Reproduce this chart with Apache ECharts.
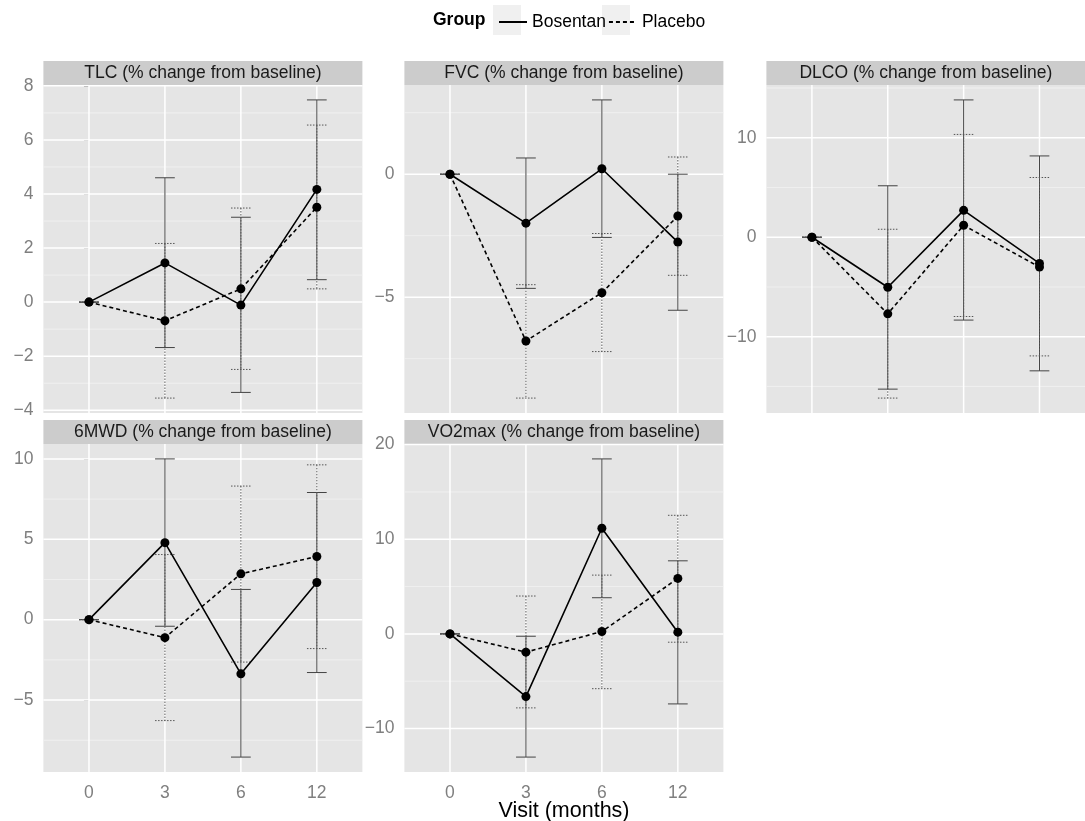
<!DOCTYPE html>
<html><head><meta charset="utf-8">
<script src="https://cdn.jsdelivr.net/npm/echarts@6/dist/echarts.min.js"></script>
<style>html,body{margin:0;padding:0;background:#fff}#chart{width:1085px;height:821px}</style>
</head><body><div id="chart"></div>
<script>
// ---------- DATA ----------
const visits = ['0', '3', '6', '12'];
const groupNames = ['Bosentan', 'Placebo'];
const panelTitles = [
  'TLC (% change from baseline)',
  'FVC (% change from baseline)',
  'DLCO (% change from baseline)',
  '6MWD (% change from baseline)',
  'VO2max (% change from baseline)'
];
// TLC
const tlcBosentan      = [0, 1.45, -0.11, 4.17];
const tlcBosentanLow   = [0, -1.68, -3.34, 0.83];
const tlcBosentanHigh  = [0, 4.60, 3.14, 7.48];
const tlcPlacebo       = [0, -0.69, 0.49, 3.51];
const tlcPlaceboLow    = [0, -3.55, -2.49, 0.49];
const tlcPlaceboHigh   = [0, 2.17, 3.48, 6.55];
const tlcTicks         = [-4, -2, 0, 2, 4, 6, 8];
const tlcMinorTicks    = [-3, -1, 1, 3, 5, 7];
// FVC
const fvcBosentan      = [0, -1.99, 0.22, -2.76];
const fvcBosentanLow   = [0, -4.64, -2.57, -5.53];
const fvcBosentanHigh  = [0, 0.66, 3.02, 0.00];
const fvcPlacebo       = [0, -6.78, -4.82, -1.70];
const fvcPlaceboLow    = [0, -9.10, -7.21, -4.11];
const fvcPlaceboHigh   = [0, -4.49, -2.41, 0.70];
const fvcTicks         = [-5, 0];
const fvcMinorTicks    = [-7.5, -2.5, 2.5];
// DLCO
const dlcoBosentan     = [0, -5.03, 2.70, -2.63];
const dlcoBosentanLow  = [0, -15.27, -8.33, -13.43];
const dlcoBosentanHigh = [0, 5.17, 13.80, 8.17];
const dlcoPlacebo      = [0, -7.70, 1.20, -3.00];
const dlcoPlaceboLow   = [0, -16.17, -7.97, -11.93];
const dlcoPlaceboHigh  = [0, 0.80, 10.33, 6.00];
const dlcoTicks        = [-10, 0, 10];
const dlcoMinorTicks   = [-15, -5, 5, 15];
// 6MWD
const mwdBosentan      = [0, 4.79, -3.37, 2.31];
const mwdBosentanLow   = [0, -0.41, -8.55, -3.29];
const mwdBosentanHigh  = [0, 10.00, 1.88, 7.91];
const mwdPlacebo       = [0, -1.12, 2.85, 3.93];
const mwdPlaceboLow    = [0, -6.28, -2.64, -1.80];
const mwdPlaceboHigh   = [0, 4.05, 8.31, 9.63];
const mwdTicks         = [-5, 0, 5, 10];
const mwdMinorTicks    = [-7.5, -2.5, 2.5, 7.5];
// VO2max
const vo2Bosentan      = [0, -6.63, 11.16, 0.18];
const vo2BosentanLow   = [0, -13.02, 3.82, -7.40];
const vo2BosentanHigh  = [0, -0.25, 18.49, 7.72];
const vo2Placebo       = [0, -1.93, 0.25, 5.86];
const vo2PlaceboLow    = [0, -7.82, -5.79, -0.88];
const vo2PlaceboHigh   = [0, 4.00, 6.21, 12.53];
const vo2Ticks         = [-10, 0, 10, 20];
const vo2MinorTicks    = [-5, 5, 15];

const panels = [
  {bos: tlcBosentan, bosLo: tlcBosentanLow, bosHi: tlcBosentanHigh, pla: tlcPlacebo, plaLo: tlcPlaceboLow, plaHi: tlcPlaceboHigh, ticks: tlcTicks, minor: tlcMinorTicks},
  {bos: fvcBosentan, bosLo: fvcBosentanLow, bosHi: fvcBosentanHigh, pla: fvcPlacebo, plaLo: fvcPlaceboLow, plaHi: fvcPlaceboHigh, ticks: fvcTicks, minor: fvcMinorTicks},
  {bos: dlcoBosentan, bosLo: dlcoBosentanLow, bosHi: dlcoBosentanHigh, pla: dlcoPlacebo, plaLo: dlcoPlaceboLow, plaHi: dlcoPlaceboHigh, ticks: dlcoTicks, minor: dlcoMinorTicks},
  {bos: mwdBosentan, bosLo: mwdBosentanLow, bosHi: mwdBosentanHigh, pla: mwdPlacebo, plaLo: mwdPlaceboLow, plaHi: mwdPlaceboHigh, ticks: mwdTicks, minor: mwdMinorTicks},
  {bos: vo2Bosentan, bosLo: vo2BosentanLow, bosHi: vo2BosentanHigh, pla: vo2Placebo, plaLo: vo2PlaceboLow, plaHi: vo2PlaceboHigh, ticks: vo2Ticks, minor: vo2MinorTicks}
];

// ---------- LAYOUT ----------
const FONT = '"Liberation Sans", Arial, Helvetica, sans-serif';
const FS = 17.5;
const layout = [
  {left: 43.4, top: 85, xAxis: false},
  {left: 404.4, top: 85, xAxis: false},
  {left: 766.4, top: 85, xAxis: false},
  {left: 43.4, top: 444, xAxis: true},
  {left: 404.4, top: 444, xAxis: true}
];
const PW = 319, PH = 328, STRIP = 24;

const fmt = v => String(v).replace('-', '\u2212');

const grid = [], xAxis = [], yAxis = [], series = [], graphic = [];

panels.forEach((p, i) => {
  const L = layout[i];
  const all = [].concat(p.bosLo, p.bosHi, p.plaLo, p.plaHi, p.bos, p.pla);
  const lo = Math.min(...all), hi = Math.max(...all), pad = (hi - lo) * 0.05;
  grid.push({left: L.left, top: L.top, width: PW, height: PH, show: true,
    backgroundColor: '#E5E5E5', borderWidth: 0, containLabel: false});
  xAxis.push({type: 'value', gridIndex: i, min: -0.6, max: 3.6,
    axisLine: {show: false}, splitLine: {show: false},
    axisTick: {show: L.xAxis, customValues: [0, 1, 2, 3], length: 5, lineStyle: {color: '#7F7F7F'}},
    axisLabel: {show: L.xAxis, customValues: [0, 1, 2, 3], formatter: v => visits[Math.round(v)],
      color: '#7F7F7F', fontSize: FS, fontFamily: FONT, margin: 12}});
  yAxis.push({type: 'value', gridIndex: i, min: lo - pad, max: hi + pad,
    axisLine: {show: false}, splitLine: {show: false},
    axisTick: {show: true, customValues: p.ticks, length: 5, lineStyle: {color: '#7F7F7F'}},
    axisLabel: {customValues: p.ticks, formatter: v => fmt(v), color: '#7F7F7F', fontSize: FS,
      fontFamily: FONT, margin: 10}});

  // gridlines (minor first, then major, then vertical)
  const gl = [];
  p.minor.forEach(v => gl.push(['h', v, 0]));
  p.ticks.forEach(v => gl.push(['h', v, 1]));
  visits.forEach((c, k) => gl.push(['v', k, 1]));
  series.push({type: 'custom', name: 'grid' + i, xAxisIndex: i, yAxisIndex: i, silent: true, z: 1,
    data: gl.map((d, k) => [k, d[1], d[2], d[0] === 'h' ? 0 : 1]),
    encode: {x: 0, y: 1},
    renderItem: (params, api) => {
      const cs = params.coordSys;
      const v = api.value(1), major = api.value(2) === 1, vert = api.value(3) === 1;
      const style = {stroke: major ? '#FFFFFF' : '#F2F2F2', lineWidth: major ? 1.5 : 0.8};
      if (vert) {
        const x = api.coord([v, 0])[0];
        return {type: 'line', shape: {x1: x, y1: cs.y, x2: x, y2: cs.y + cs.height}, style};
      }
      const y = api.coord([0, v])[1];
      return {type: 'line', shape: {x1: cs.x, y1: y, x2: cs.x + cs.width, y2: y}, style};
    }});

  // error bars
  [['Bosentan', p.bosLo, p.bosHi, null, '#444'], ['Placebo', p.plaLo, p.plaHi, [1.5, 1.5], '#555']].forEach(g => {
    series.push({type: 'custom', name: g[0] + ' error', xAxisIndex: i, yAxisIndex: i, silent: true, z: 2,
      data: visits.map((c, k) => [k, g[1][k], g[2][k]]),
      encode: {x: 0, y: [1, 2]},
      renderItem: (params, api) => {
        const x = api.value(0);
        const t = api.coord([x, api.value(2)]), b = api.coord([x, api.value(1)]);
        const hw = api.size([1, 0])[0] * 0.13;
        const style = {stroke: g[4], lineWidth: 1, lineDash: g[3] || null};
        return {type: 'group', children: [
          {type: 'line', shape: {x1: t[0], y1: t[1], x2: b[0], y2: b[1]}, style},
          {type: 'line', shape: {x1: t[0] - hw, y1: t[1], x2: t[0] + hw, y2: t[1]}, style},
          {type: 'line', shape: {x1: b[0] - hw, y1: b[1], x2: b[0] + hw, y2: b[1]}, style}
        ]};
      }});
  });

  // lines + points
  [['Bosentan', p.bos, 'solid'], ['Placebo', p.pla, [4, 3]]].forEach(g => {
    series.push({type: 'line', name: g[0], xAxisIndex: i, yAxisIndex: i, z: 3,
      data: visits.map((c, k) => [k, g[1][k]]),
      symbol: 'circle', symbolSize: 9, showSymbol: true,
      itemStyle: {color: '#000'},
      lineStyle: {color: '#000', width: 1.6, type: g[2]},
      emphasis: {disabled: true}});
  });

  // strip
  graphic.push({type: 'rect', shape: {x: L.left, y: L.top - STRIP, width: PW, height: STRIP},
    style: {fill: '#CCCCCC'}, silent: true, z: 0});
  graphic.push({type: 'text', x: L.left + PW / 2, y: L.top - STRIP / 2,
    style: {text: panelTitles[i], fontSize: FS, fontFamily: FONT, fill: '#1A1A1A',
      align: 'center', verticalAlign: 'middle'}, silent: true, z: 1});
});

// legend decorations and axis title
graphic.push({type: 'text', x: 433, y: 20, style: {text: 'Group', fontSize: FS, fontWeight: 'bold',
  fontFamily: FONT, fill: '#000', align: 'left', verticalAlign: 'middle'}, silent: true});
graphic.push({type: 'rect', shape: {x: 493, y: 5, width: 28, height: 30}, style: {fill: '#F0F0F0'}, silent: true, z: 0});
graphic.push({type: 'rect', shape: {x: 602, y: 5, width: 28, height: 30}, style: {fill: '#F0F0F0'}, silent: true, z: 0});
graphic.push({type: 'text', x: 564, y: 811, style: {text: 'Visit (months)', fontSize: 21.5, fontFamily: FONT,
  fill: '#000', align: 'center', verticalAlign: 'middle'}, silent: true});

const chart = echarts.init(document.getElementById('chart'), null, {renderer: 'canvas'});
chart.setOption({
  animation: false,
  backgroundColor: '#FFFFFF',
  textStyle: {fontFamily: FONT},
  legend: {data: groupNames, left: 493, top: 5, itemWidth: 28, itemHeight: 30, itemGap: 2,
    selectedMode: false, textStyle: {fontSize: FS, color: '#000', fontFamily: FONT},
    itemStyle: {opacity: 0}},
  grid, xAxis, yAxis, series, graphic
});
</script></body></html>
